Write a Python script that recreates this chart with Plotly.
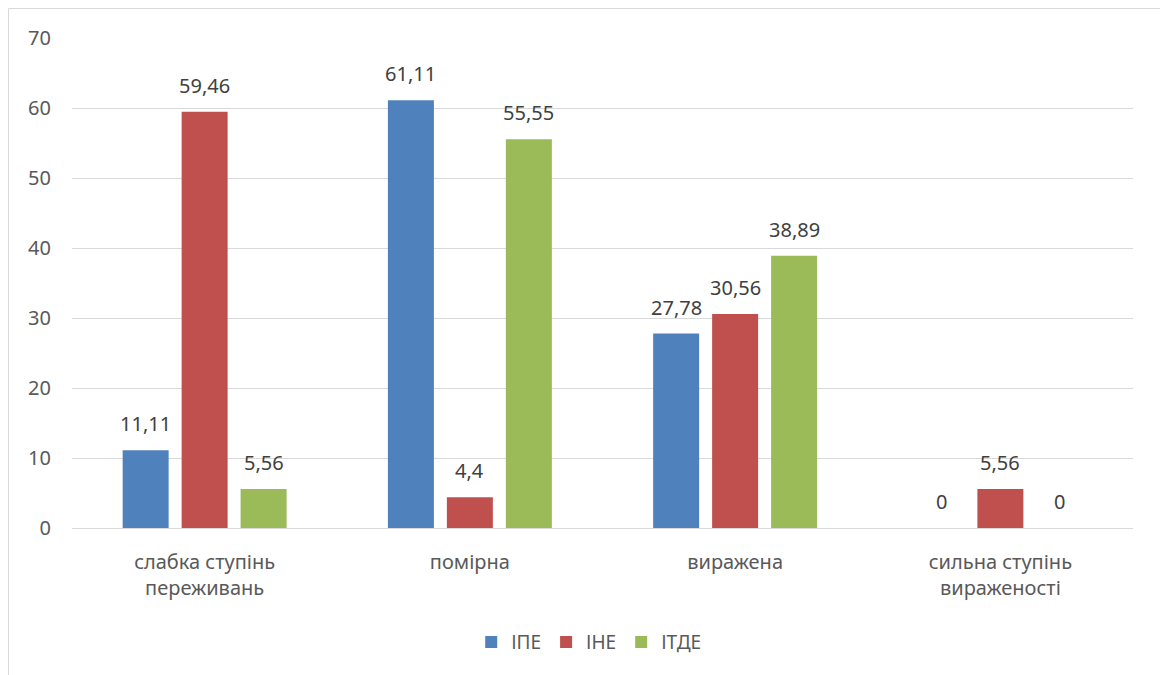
import plotly.graph_objects as go

categories = ["слабка ступінь<br>переживань", "помірна", "виражена", "сильна ступінь<br>вираженості"]
series_names = ["ІПЕ", "ІНЕ", "ІТДЕ"]
ipe = [11.11, 61.11, 27.78, 0]
ine = [59.46, 4.4, 30.56, 5.56]
itde = [5.56, 55.55, 38.89, 0]
y_ticks = [0, 10, 20, 30, 40, 50, 60, 70]

colors = ["#4F81BD", "#C0504D", "#9BBB59"]
FONT = "Noto Sans"
FS = 20
BARGAP = 0.333

def fmt(v):
    return ("%g" % v).replace(".", ",")

fig = go.Figure()
xs = list(range(len(categories)))
all_series = [ipe, ine, itde]
for name, vals, c in zip(series_names, all_series, colors):
    fig.add_trace(go.Bar(x=xs, y=vals, name=name, marker=dict(color=c, line=dict(width=0))))

slot = (1 - BARGAP) / len(all_series)
annotations = []
for j, vals in enumerate(all_series):
    off = (j - (len(all_series) - 1) / 2) * slot
    for i, v in enumerate(vals):
        annotations.append(dict(
            x=xs[i] + off, y=v, xref="x", yref="y", text=fmt(v), showarrow=False,
            yanchor="bottom", yshift=11,
            font=dict(family=FONT, size=FS, color="#404040")))

fig.update_layout(
    width=1160, height=675,
    barmode="group", bargap=BARGAP, bargroupgap=0.22,
    plot_bgcolor="white", paper_bgcolor="white",
    margin=dict(l=72, r=27, t=38, b=147),
    font=dict(family=FONT, size=FS, color="#595959"),
    annotations=annotations,
    legend=dict(orientation="h", x=0.487, xanchor="center", y=-0.233, yanchor="middle",
                font=dict(family=FONT, size=19, color="#595959"), itemwidth=30,
                traceorder="normal"),
    shapes=[dict(type="rect", xref="paper", yref="paper",
                 x0=(8.5 - 72) / 1061, x1=1.1, y0=-0.4, y1=(528 - 8.5) / 490,
                 line=dict(color="#D9D9D9", width=1), layer="below")],
)
fig.update_xaxes(tickmode="array", tickvals=xs, ticktext=categories, range=[-0.5, 3.5],
                 showgrid=False, showline=False, zeroline=False, ticks="",
                 ticklabelstandoff=20,
                 tickfont=dict(family=FONT, size=FS, color="#595959"))
fig.update_yaxes(range=[0, 70], tickmode="array", tickvals=y_ticks, showgrid=True,
                 gridcolor="#D9D9D9", gridwidth=1, zeroline=True, zerolinecolor="#D9D9D9",
                 zerolinewidth=1, showline=False, ticks="", ticklabelstandoff=20,
                 tickfont=dict(family=FONT, size=FS, color="#595959"))

fig.write_html("out.html")
